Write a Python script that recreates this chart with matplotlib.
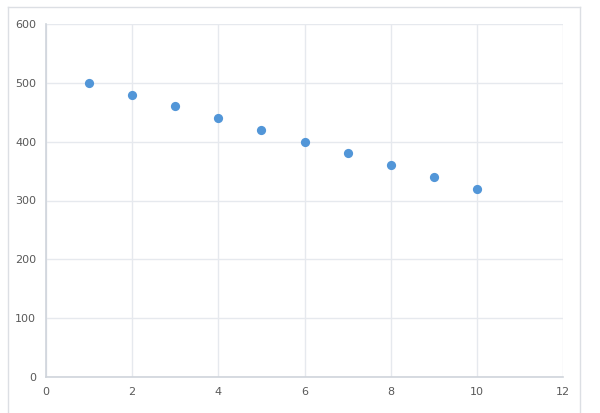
import matplotlib
matplotlib.use("Agg")
import matplotlib.pyplot as plt
from matplotlib.lines import Line2D

x_values = [1, 2, 3, 4, 5, 6, 7, 8, 9, 10]
y_values = [500, 480, 460, 440, 420, 400, 380, 360, 340, 320]
x_ticks = [0, 2, 4, 6, 8, 10, 12]
y_ticks = [0, 100, 200, 300, 400, 500, 600]

W, H = 600, 413
fig = plt.figure(figsize=(W / 100, H / 100), dpi=100)
fig.patch.set_facecolor("white")

# outer chart border
border_col = "#dcdfe4"
fig.add_artist(Line2D([8 / W, 8 / W], [0, 1 - 7 / H], transform=fig.transFigure, color=border_col, lw=1))
fig.add_artist(Line2D([580 / W, 580 / W], [0, 1 - 7 / H], transform=fig.transFigure, color=border_col, lw=1))
fig.add_artist(Line2D([8 / W, 580 / W], [1 - 7 / H, 1 - 7 / H], transform=fig.transFigure, color=border_col, lw=1))

ax = fig.add_axes([46 / W, 1 - 377 / H, (563 - 46) / W, (377 - 24) / H])
ax.scatter(x_values, y_values, s=44, color="#5296d8", zorder=3, linewidths=0)
ax.set_xlim(0, 12)
ax.set_ylim(0, 600)
ax.set_xticks(x_ticks)
ax.set_yticks(y_ticks)
ax.grid(True, color="#e6e9ee", lw=1)
ax.set_axisbelow(True)
for s in ["top", "right"]:
    ax.spines[s].set_visible(False)
for s in ["left", "bottom"]:
    ax.spines[s].set_color("#cfd4db")
    ax.spines[s].set_linewidth(1.2)
ax.tick_params(length=0, labelsize=8, colors="#595959", pad=7)

fig.savefig("out.png", dpi=100)
